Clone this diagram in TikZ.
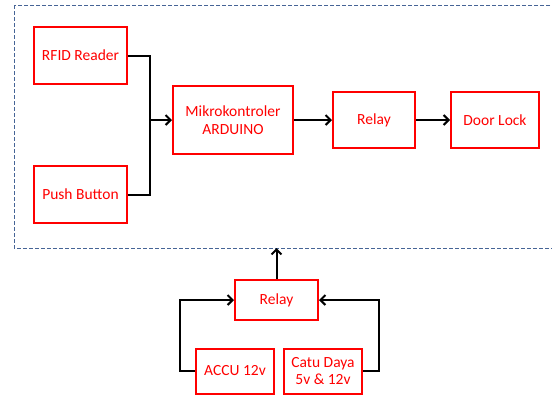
\documentclass[tikz,border=0pt]{standalone}
\usepackage{fontspec}
\setmainfont{Carlito}
\usetikzlibrary{arrows.meta}
\definecolor{dashblue}{RGB}{70,100,150}
\definecolor{boxred}{RGB}{255,0,0}
\tikzset{
  blk/.style={draw=boxred, line width=2pt, text=boxred, font=\fontsize{15.5}{17.5}\selectfont, align=center, inner sep=0pt},
  conn/.style={draw=black, line width=2pt, -{Straight Barb[length=5pt,width=10pt]}},
  plain/.style={draw=black, line width=2pt},
}
\begin{document}
\begin{tikzpicture}[x=1pt,y=-1pt]
\useasboundingbox (0,0) rectangle (552,394);
\begin{scope}
\clip (0,0) rectangle (552,394);
\draw[dashblue, line width=1pt, dash pattern=on 4pt off 2pt] (14,5) rectangle (570,248);
\end{scope}
\node[blk, minimum width=93pt, minimum height=57pt] (rfid) at (80.5,55.5) {RFID Reader};
\node[blk, minimum width=93pt, minimum height=57pt] (push) at (80.5,194.5) {Push Button};
\node[blk, minimum width=120pt, minimum height=68pt] (mcu) at (233,120) {Mikrokontroler\\ARDUINO};
\node[blk, minimum width=82pt, minimum height=56pt] (relay) at (374,120) {Relay};
\node[blk, minimum width=88pt, minimum height=56pt] (door) at (495,120) {Door Lock};
\node[blk, minimum width=83pt, minimum height=40pt] (relay2) at (276.5,300) {Relay};
\node[blk, minimum width=78pt, minimum height=45pt] (accu) at (235,371) {ACCU 12v};
\node[blk, minimum width=78pt, minimum height=45pt] (catu) at (323,371) {Catu Daya\\5v \& 12v};
\coordinate (j) at (150,120);
\coordinate (boxb) at (276.5,248);
\draw[plain] (rfid.east) -| (j);
\draw[plain] (push.east) -| (j);
\draw[conn] (j) -- (mcu.west);
\draw[conn] (mcu.east) -- (relay.west);
\draw[conn] (relay.east) -- (door.west);
\draw[conn] (relay2.north) -- (boxb);
\draw[conn] (accu.west) -| ++(-15,0) |- (relay2.west);
\draw[conn] (catu.east) -| ++(16,0) |- (relay2.east);
\end{tikzpicture}
\end{document}
